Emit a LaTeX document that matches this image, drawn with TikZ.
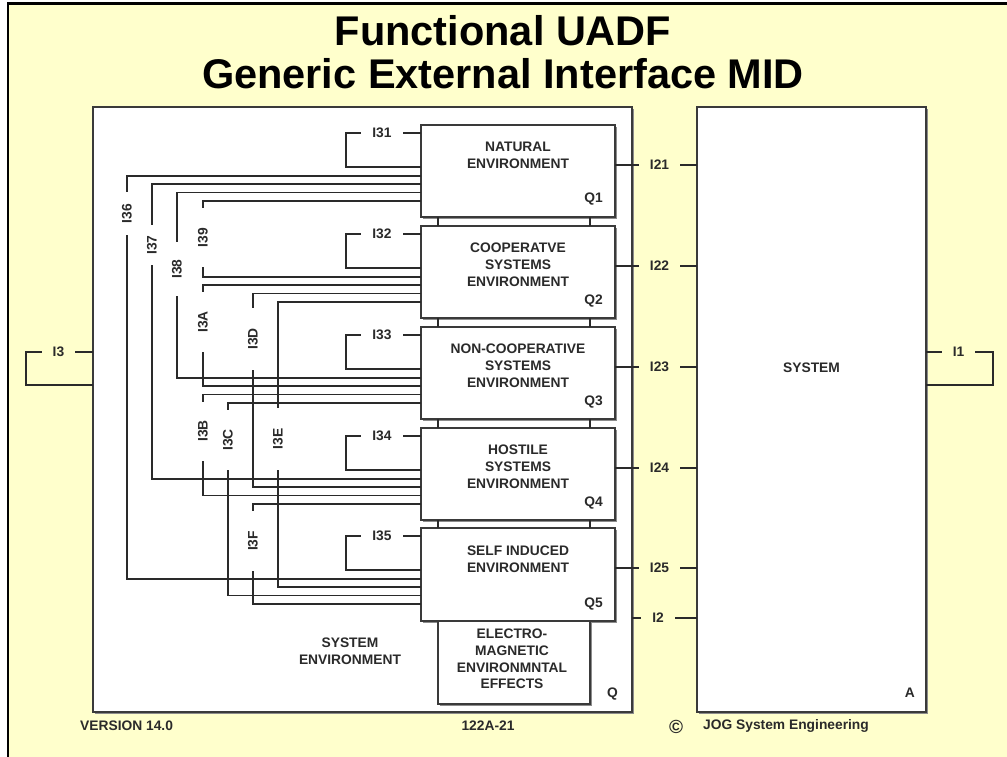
\documentclass[tikz,border=0pt]{standalone}
\usepackage{fontspec}
\setmainfont{Liberation Sans}
\usetikzlibrary{calc}
\definecolor{slide}{HTML}{FFFFCC}
\definecolor{ink}{HTML}{2A2A2A}
\definecolor{edge}{HTML}{3A3A3A}

\begin{document}
\begin{tikzpicture}[x=1pt,y=-1pt,
  wire/.style={draw=ink, line width=1.7pt},
  box/.style={draw=edge, line width=1.8pt, fill=white, anchor=north west,
    inner sep=0pt, outer sep=0pt,
    preaction={fill=black!45, transform canvas={xshift=1.6pt,yshift=-1.6pt}}},
  qbox/.style={box, minimum width=194pt, minimum height=92pt},
  txt/.style={font=\bfseries\fontsize{13.8}{16.6}\selectfont, text=ink, inner sep=0pt, align=center},
  boxtext/.style={txt, anchor=north},
  tag/.style={txt, anchor=base east},
  hgap/.style={txt, inner xsep=11pt, inner ysep=1pt, fill=#1},
  hgap/.default=white,
  vgap/.style={txt, rotate=90, inner xsep=0pt, inner ysep=1pt, fill=white, minimum width=#1},
  title/.style={font=\bfseries\fontsize{41.5}{46}\selectfont, text=black, inner sep=0pt, anchor=base}
]
% page and frame
\useasboundingbox (0,0) rectangle (1007,757);
\fill[white] (0,0) rectangle (1007,757);
\fill[slide] (8,3.8) rectangle (1007,757);
\draw[black, line width=2.6pt] (8,757) -- (8,3.8) -- (1007,3.8);

% title
\node[title] (t1) at (503,46) {Functional UADF};
\node[title] (t2) at (503,89) {Generic External Interface MID};

% the two top-level blocks
\node[box, minimum width=539pt, minimum height=605pt] (Q) at (93,107) {};
\node[box, minimum width=229pt, minimum height=605pt] (A) at (697,107) {};

% environment blocks
\node[qbox] (Q1) at (421,125) {};
\node[qbox] (Q2) at (421,226) {};
\node[qbox] (Q3) at (421,327) {};
\node[qbox] (Q4) at (421,428) {};
\node[qbox, minimum height=93pt] (Q5) at (421,528) {};
\node[box, minimum width=152pt, minimum height=83pt] (EM) at (438,621) {};

\node[boxtext] at ($(Q1.north)+(0,17)$) {NATURAL\\ENVIRONMENT};
\node[boxtext] at ($(Q2.north)+(0,17)$) {COOPERATVE\\SYSTEMS\\ENVIRONMENT};
\node[boxtext] at ($(Q3.north)+(0,17)$) {NON-COOPERATIVE\\SYSTEMS\\ENVIRONMENT};
\node[boxtext] at ($(Q4.north)+(0,17)$) {HOSTILE\\SYSTEMS\\ENVIRONMENT};
\node[boxtext] at ($(Q5.north)+(0,18)$) {SELF INDUCED\\ENVIRONMENT};
\node[boxtext] at ($(EM.north)+(-2,8)$) {ELECTRO-\\MAGNETIC\\ENVIRONMNTAL\\EFFECTS};

\foreach \q in {1,...,5}{
  \node[tag] at ($(Q\q.south east)+(-12,-14)$) {Q\q};
}
\node[tag] at ($(Q.south east)+(-14,-15)$) {Q};
\node[tag] at ($(A.south east)+(-11,-15)$) {A};
\node[txt] at ($(A.north)+(0,261)$) {SYSTEM};
\node[txt] at (350,651) {SYSTEM\\ENVIRONMENT};

% links between neighbouring environment blocks
\foreach \q/\n in {1/2,2/3,3/4,4/5}{
  \draw[wire] ($(Q\q.south west)+(17,0)$) -- ($(Q\n.north west)+(17,0)$);
  \draw[wire] ($(Q\q.south west)+(169,0)$) -- ($(Q\n.north west)+(169,0)$);
}

% ports on the west side of each environment block
\foreach \q in {1,...,5}{
  \foreach \k/\d in {0/51,1/59.3,2/67.6,3/76}{
    \coordinate (Q\q-p\k) at ($(Q\q.north west)+(0,\d)$);
  }
  \coordinate (Q\q-a) at ($(Q\q.north west)+(0,8)$);
  \coordinate (Q\q-b) at ($(Q\q.north west)+(0,42)$);
  \coordinate (Q\q-r) at ($(Q\q.north east)+(0,40)$);
}

% self loops I31..I35
\foreach \q/\t in {1/I31,2/I32,3/I33,4/I34,5/I35}{
  \draw[wire] (Q\q-a) -- ++(-75,0) |- (Q\q-b);
  \node[hgap] at ($(Q\q-a)+(-39,0)$) {\t};
}

% interfaces from each environment block to the system
\foreach \q/\t in {1/I21,2/I22,3/I23,4/I24,5/I25}{
  \draw[wire] (Q\q-r) -- (Q\q-r -| A.west);
  \node[hgap=slide] at ($(Q\q-r -| A.west)+(-37.5,0)$) {\t};
}
\coordinate (Q-i2) at ($(Q.north east)+(0,511)$);
\draw[wire] (Q-i2) -- (Q-i2 -| A.west);
\node[hgap=slide] at ($(Q-i2 -| A.west)+(-39,0)$) {I2};

% external loops I3 and I1
\coordinate (Q-i3a) at ($(Q.north west)+(0,245)$);
\coordinate (Q-i3b) at ($(Q.north west)+(0,278)$);
\draw[wire] (Q-i3a) -- ++(-67,0) |- (Q-i3b);
\node[hgap=slide, inner xsep=10.5pt] at ($(Q-i3a)+(-34.5,0)$) {I3};
\coordinate (A-i1a) at ($(A.north east)+(0,245)$);
\coordinate (A-i1b) at ($(A.north east)+(0,278)$);
\draw[wire] (A-i1a) -- ++(67,0) |- (A-i1b);
\node[hgap=slide, inner xsep=10.5pt] at ($(A-i1a)+(32.5,0)$) {I1};

% cross links between environment blocks
\foreach \a/\b/\x/\ly/\g/\t in {
  Q1-p0/Q5-p0/127/213.5/43/I36,
  Q1-p1/Q4-p0/152/245/40/I37,
  Q1-p2/Q3-p0/177/269/54/I38,
  Q1-p3/Q2-p0/203/237.5/59/I39,
  Q2-p1/Q3-p1/203/322/60/I3A,
  Q2-p2/Q4-p1/253/339/62/I3D,
  Q2-p3/Q5-p1/278/439/62/I3E,
  Q3-p2/Q4-p2/203/431/59/I3B,
  Q3-p3/Q5-p2/228/440/60/I3C,
  Q4-p3/Q5-p3/253/541/60/I3F}{
  \coordinate (col) at (\x,0);
  \draw[wire] (\a) -| (col |- \b) -- (\b);
  \node[vgap=\g pt] at (\x,\ly) {\t};
}

% footer
\node[txt, anchor=west] at (80,726) {VERSION 14.0};
\node[txt] at (488,726) {122A-21};
\node[txt, font=\bfseries\fontsize{19}{19}\selectfont] at (676,727) {\textcopyright};
\node[txt, anchor=west] at (703,726) {JOG System Engineering};
\end{tikzpicture}
\end{document}
